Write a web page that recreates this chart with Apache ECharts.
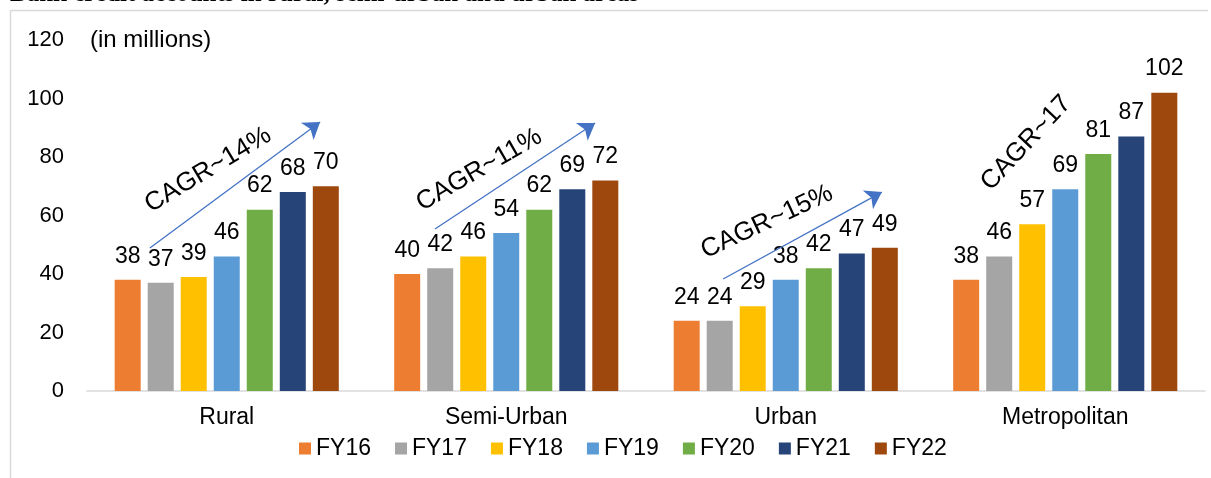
<!DOCTYPE html>
<html>
<head>
<meta charset="utf-8">
<script src="https://cdn.jsdelivr.net/npm/echarts@6/dist/echarts.min.js"></script>
<style>
html,body{margin:0;padding:0;background:#fff;}
#c{width:1211px;height:478px;}
</style>
</head>
<body>
<div id="c"></div>
<script>
const titleText = 'Bank credit accounts in rural, semi-urban and urban areas';
const unitText = '(in millions)';
const categories = ['Rural', 'Semi-Urban', 'Urban', 'Metropolitan'];
const seriesNames = ['FY16', 'FY17', 'FY18', 'FY19', 'FY20', 'FY21', 'FY22'];
const fy16 = [38, 40, 24, 38];
const fy17 = [37, 42, 24, 46];
const fy18 = [39, 46, 29, 57];
const fy19 = [46, 54, 38, 69];
const fy20 = [62, 62, 42, 81];
const fy21 = [68, 69, 47, 87];
const fy22 = [70, 72, 49, 102];
const seriesValues = [fy16, fy17, fy18, fy19, fy20, fy21, fy22];
const colors = ['#ED7D31', '#A5A5A5', '#FFC000', '#5B9BD5', '#70AD47', '#264478', '#9E480E'];
const yTicks = [0, 20, 40, 60, 80, 100, 120];
// CAGR annotations: arrow from/to in (category-position, value) space, text center + angle
const cagrLabels = ['CAGR~14%', 'CAGR~11%', 'CAGR~15%', 'CAGR~17'];
const cagrArrowStart = [[0.225, 48.9], [1.245, 55.4], [2.276, 38.3], [3.252, 60.9]];
const cagrArrowEnd = [[0.834, 92.0], [1.818, 91.6], [2.844, 68.0], [3.857, 120.7]];
const cagrTextPos = [[0.433, 75.6], [1.403, 75.6], [2.433, 57.8], [3.36, 84.8]];
const cagrTextAngle = [31, 30, 25, 47];

const chart = echarts.init(document.getElementById('c'), null, {renderer: 'canvas'});
const FONT = 'Liberation Sans, Arial, sans-serif';

const barSeries = seriesNames.map((n, i) => ({
  name: n,
  type: 'bar',
  xAxisIndex: 0,
  yAxisIndex: 0,
  data: seriesValues[i],
  barWidth: 26,
  barGap: '27%',
  itemStyle: {color: colors[i]},
  label: {
    show: true, position: 'top', distance: 12,
    color: '#000', fontSize: 23, fontFamily: FONT
  },
  emphasis: {disabled: true}
}));

const arrowSeries = {
  type: 'scatter',
  xAxisIndex: 1,
  yAxisIndex: 0,
  data: [],
  silent: true,
  markLine: {
    silent: true,
    animation: false,
    symbol: ['none', 'arrow'],
    symbolSize: 16,
    lineStyle: {color: '#4472C4', width: 1.3, type: 'solid'},
    label: {show: false},
    emphasis: {disabled: true},
    data: cagrArrowStart.map((s, i) => [{coord: s}, {coord: cagrArrowEnd[i]}])
  }
};

chart.setOption({
  animation: false,
  color: colors,
  grid: {left: 87, right: 6, top: 40, bottom: 87, containLabel: false},
  legend: {
    data: seriesNames,
    left: 299, top: 437, padding: 0,
    icon: 'rect', itemWidth: 12, itemHeight: 12, itemGap: 24,
    textStyle: {fontSize: 23, color: '#000', fontFamily: FONT}
  },
  xAxis: [{
    type: 'category',
    data: categories,
    axisLine: {show: true, lineStyle: {color: '#d9d9d9', width: 1.5}},
    axisTick: {show: false},
    axisLabel: {fontSize: 23, color: '#000', fontFamily: FONT, margin: 15}
  }, {
    type: 'value', min: 0, max: 4, show: false
  }],
  yAxis: {
    type: 'value', min: yTicks[0], max: yTicks[yTicks.length - 1], interval: 20,
    axisLine: {show: false}, axisTick: {show: false},
    splitLine: {show: false},
    axisLabel: {fontSize: 22, color: '#000', fontFamily: FONT, margin: 23}
  },
  series: barSeries.concat([arrowSeries])
});

const W = 1211, H = 478;
const graphics = [
  {type: 'line', shape: {x1: 10.5, y1: 10.5, x2: 1208, y2: 10.5}, style: {stroke: '#d9d9d9', lineWidth: 1.5}, silent: true},
  {type: 'line', shape: {x1: 10.5, y1: 10.5, x2: 10.5, y2: H}, style: {stroke: '#d9d9d9', lineWidth: 1.5}, silent: true},
  {type: 'text', x: 10, y: 7, silent: true,
   style: {text: titleText, font: 'bold 25px "Liberation Serif", "Times New Roman", serif', fill: '#000', align: 'left', verticalAlign: 'bottom', textAlign: 'left', textVerticalAlign: 'bottom'}},
  {type: 'text', x: 90, y: 40, silent: true,
   style: {text: unitText, font: '24px "Liberation Sans", Arial, sans-serif', fill: '#000', align: 'left', verticalAlign: 'middle', textAlign: 'left', textVerticalAlign: 'middle'}}
];
const arrowIdx = barSeries.length;
cagrLabels.forEach((t, i) => {
  const p = chart.convertToPixel({seriesIndex: arrowIdx}, cagrTextPos[i]);
  graphics.push({
    type: 'text', x: p[0], y: p[1], rotation: cagrTextAngle[i] * Math.PI / 180, silent: true,
    style: {text: t, font: '26px "Liberation Sans", Arial, sans-serif', fill: '#000', align: 'center', verticalAlign: 'middle', textAlign: 'center', textVerticalAlign: 'middle'}
  });
});
chart.setOption({graphic: graphics});
</script>
</body>
</html>
